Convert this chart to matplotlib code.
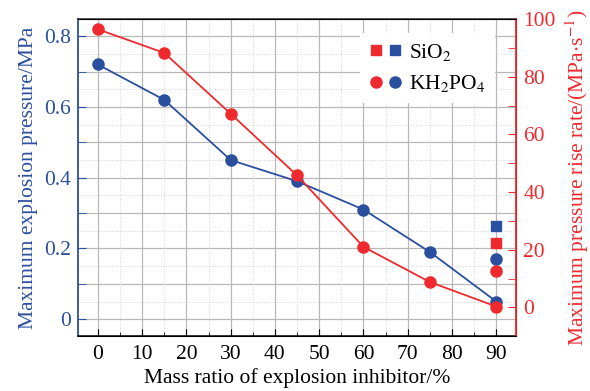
import matplotlib
matplotlib.use("Agg")
import matplotlib.pyplot as plt
from matplotlib.ticker import MultipleLocator
from matplotlib.legend_handler import HandlerTuple
from matplotlib.lines import Line2D

plt.rcParams["font.family"] = ["Liberation Serif", "DejaVu Serif"]
plt.rcParams["mathtext.fontset"] = "stix"

# --- data ---
mass_ratio = [0, 15, 30, 45, 60, 75, 90]
kh2po4_pressure = [0.72, 0.62, 0.45, 0.39, 0.31, 0.19, 0.05]    # MPa, left axis
kh2po4_rate = [96.5, 88.3, 67.2, 45.8, 21.0, 8.8, 0.3]          # MPa/s, right axis
sio2_x = [90]
sio2_pressure = [0.264]
sio2_rate = [22.3]
kh2po4_x_extra = [90]
kh2po4_pressure_extra = [0.171]
kh2po4_rate_extra = [12.8]

BLUE = "#2a4f9f"
RED = "#ee2a2e"
FS = 15.5

fig = plt.figure(figsize=(5.9, 3.91), dpi=100)
ax = fig.add_axes([0.132, 0.14, 0.743, 0.811])
ax2 = ax.twinx()

ax.plot(mass_ratio, kh2po4_pressure, "o-", color=BLUE, lw=1.3, ms=8, zorder=3)
ax.plot(kh2po4_x_extra, kh2po4_pressure_extra, "o", color=BLUE, ms=8, zorder=3)
ax.plot(sio2_x, sio2_pressure, "s", color=BLUE, ms=7, zorder=3)

ax2.plot(mass_ratio, kh2po4_rate, "o-", color=RED, lw=1.3, ms=8, zorder=3)
ax2.plot(kh2po4_x_extra, kh2po4_rate_extra, "o", color=RED, ms=8, zorder=3)
ax2.plot(sio2_x, sio2_rate, "s", color=RED, ms=7, zorder=3)

ax.set_xlim(-4.5, 94.5)
ax.set_ylim(-0.048, 0.848)
ax2.set_ylim(-10, 100)

ax.xaxis.set_major_locator(MultipleLocator(10))
ax.xaxis.set_minor_locator(MultipleLocator(5))
ax.yaxis.set_major_locator(MultipleLocator(0.2))
ax.yaxis.set_minor_locator(MultipleLocator(0.1))
ax2.yaxis.set_major_locator(MultipleLocator(20))
ax2.yaxis.set_minor_locator(MultipleLocator(10))
ax.yaxis.set_major_formatter(plt.FuncFormatter(lambda v, p: "0" if abs(v) < 1e-9 else f"{v:.1f}"))

# grid: solid at every 0.1 / 10, dotted in between
ax.grid(False)
for y in [i * 0.1 for i in range(0, 9)]:
    ax.axhline(y, color="#b8b8b8", lw=0.9, zorder=0)
for y in [0.05 + i * 0.1 for i in range(0, 8)]:
    ax.axhline(y, color="#d4d4d4", lw=0.7, ls=":", zorder=0)
ax.grid(True, which="major", axis="x", color="#b8b8b8", lw=0.9)
ax.grid(True, which="minor", axis="x", color="#d4d4d4", lw=0.7, ls=":")
ax.set_axisbelow(True)

ax.tick_params(axis="both", which="both", direction="in", labelsize=FS)
ax.tick_params(axis="x", which="major", length=5, pad=6)
ax.tick_params(axis="x", which="minor", length=3)
ax.tick_params(axis="y", which="major", length=6, colors=BLUE, pad=5)
ax.tick_params(axis="y", which="minor", length=6, colors=BLUE)
ax2.tick_params(axis="y", which="both", direction="in", length=6, colors=RED, labelsize=FS, pad=5)

ax.spines["left"].set_color(BLUE)
ax.spines["left"].set_linewidth(1.3)
ax2.spines["left"].set_visible(False)
ax2.spines["right"].set_color(RED)
ax2.spines["right"].set_linewidth(1.3)
ax.spines["bottom"].set_linewidth(1.1)
ax.spines["top"].set_linewidth(1.1)
ax.spines["top"].set_color("#333333")

ax.set_xlabel("Mass ratio of explosion inhibitor/%", fontsize=FS, labelpad=3)
ax.set_ylabel("Maximum explosion pressure/MPa", fontsize=FS, color=BLUE, labelpad=4)
ax2.set_ylabel(r"Maximum pressure rise rate/(MPa$\cdot$s$^{-1}$)", fontsize=FS, color=RED, labelpad=6)

handles = [
    (Line2D([], [], marker="s", ls="", color=RED, ms=7), Line2D([], [], marker="s", ls="", color=BLUE, ms=7)),
    (Line2D([], [], marker="o", ls="", color=RED, ms=8), Line2D([], [], marker="o", ls="", color=BLUE, ms=8)),
]
ax2.legend(handles, [r"SiO$_2$", r"KH$_2$PO$_4$"], handler_map={tuple: HandlerTuple(ndivide=None, pad=0.1)},
           loc="upper right", bbox_to_anchor=(0.975, 0.99), frameon=True, framealpha=1, edgecolor="none",
           fontsize=FS, handlelength=1.6, handletextpad=0.3, labelspacing=0.5)

fig.savefig("out.png", dpi=100)
